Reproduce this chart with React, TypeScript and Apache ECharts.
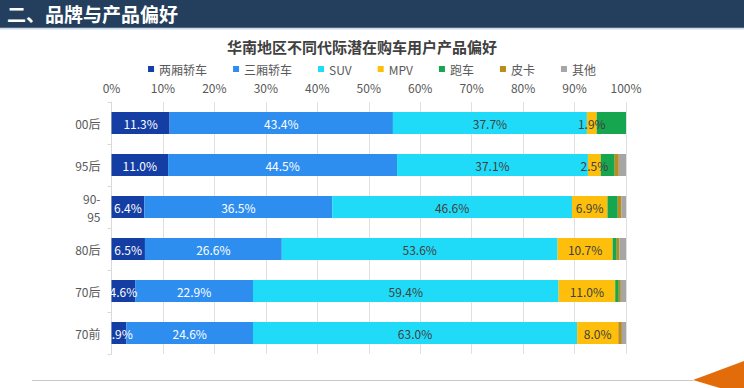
import React, { useEffect, useRef } from "react";
import * as echarts from "echarts";

const categories = ["00后", "95后", "90-\n95", "80后", "70后", "70前"];
const seriesNames = ["两厢轿车", "三厢轿车", "SUV", "MPV", "跑车", "皮卡", "其他"];
const hatchback = [11.3, 11.0, 6.4, 6.5, 4.6, 2.9];
const sedan = [43.4, 44.5, 36.5, 26.6, 22.9, 24.6];
const suv = [37.7, 37.1, 46.6, 53.6, 59.4, 63.0];
const mpv = [1.9, 2.5, 6.9, 10.7, 11.0, 8.0];
const sports = [5.7, 2.7, 2.0, 0.8, 0.7, 0];
const pickup = [0, 0.8, 0.7, 0.5, 0.4, 0.7];
const others = [0, 1.4, 0.9, 1.3, 1.0, 0.8];
const xTicks = [0, 10, 20, 30, 40, 50, 60, 70, 80, 90, 100];

const colors = ["#143ea3", "#2e8ef0", "#20dbf7", "#fdbf0b", "#17a650", "#bb8c1c", "#a6a6a6"];
const labelColors = ["#ffffff", "#ffffff", "#404040", "#404040", null, null, null];
const seriesData = [hatchback, sedan, suv, mpv, sports, pickup, others];

export default function App() {
  const ref = useRef<HTMLDivElement>(null);
  useEffect(() => {
    if (!ref.current) return;
    const chart = echarts.init(ref.current, null, { renderer: "svg" });
    const font = "'Noto Sans CJK SC', 'Noto Sans', sans-serif";
    chart.setOption({
      animation: false,
      textStyle: { fontFamily: font },
      title: {
        text: "华南地区不同代际潜在购车用户产品偏好",
        left: 357,
        textAlign: "center",
        top: 34,
        textStyle: { fontSize: 15, fontWeight: "bold", color: "#404040", fontFamily: font },
      },
      legend: {
        data: seriesNames,
        top: 58,
        left: "center",
        itemWidth: 6,
        itemHeight: 6,
        itemGap: 26,
        icon: "rect",
        textStyle: { fontSize: 12, color: "#595959", fontFamily: font },
      },
      grid: { left: 111.5, right: 118, top: 102, bottom: 34, containLabel: false },
      xAxis: {
        type: "value",
        position: "top",
        min: xTicks[0],
        max: xTicks[xTicks.length - 1],
        interval: 10,
        axisLabel: { formatter: "{value}%", color: "#595959", fontSize: 12, margin: 9 },
        axisLine: { show: false },
        axisTick: { show: false },
        splitLine: { show: true, lineStyle: { color: "#e0e0e0", width: 1 } },
      },
      yAxis: {
        type: "category",
        inverse: true,
        data: categories,
        axisLine: { show: true, lineStyle: { color: "#d9d9d9" } },
        axisTick: { show: true, length: 4, lineStyle: { color: "#d9d9d9" } },
        axisLabel: { color: "#595959", fontSize: 12, margin: 11, lineHeight: 18 },
      },
      series: seriesNames.map((name, i) => ({
        name,
        type: "bar",
        stack: "total",
        barWidth: 22,
        itemStyle: { color: colors[i] },
        data: seriesData[i],
        label: {
          show: labelColors[i] !== null,
          position: "inside",
          color: labelColors[i] || "#404040",
          fontSize: 12,
          fontFamily: font,
          formatter: (p: any) => (p.value ? Number(p.value).toFixed(1) + "%" : ""),
        },
      })),
      graphic: [
        { type: "rect", z: 100, shape: { x: 0, y: 0, width: 744, height: 27 }, style: { fill: "#243f5e" } },
        { type: "rect", z: 100, shape: { x: 0, y: 27, width: 744, height: 1 }, style: { fill: "#55657a" } },
        { type: "rect", z: 100, shape: { x: 0, y: 28, width: 744, height: 1.5 }, style: { fill: "#c9d9ee" } },
        {
          type: "text",
          z: 101,
          x: 7,
          y: 13.5,
          style: {
            text: "二、品牌与产品偏好",
            fill: "#ffffff",
            font: "bold 19px 'Noto Sans CJK SC', sans-serif",
            verticalAlign: "middle",
          },
        },
        { type: "rect", z: 100, shape: { x: 100.5, y: 324, width: 10.5, height: 18 }, style: { fill: "#ffffff" } },
        { type: "line", z: 100, shape: { x1: 32, y1: 380.5, x2: 693, y2: 380.5 }, style: { stroke: "#c8c8c8", lineWidth: 1 } },
        {
          type: "polygon",
          z: 100,
          shape: { points: [[693, 380], [744, 361], [744, 388], [720, 388]] },
          style: { fill: "#e36c0a" },
        },
      ],
    });
    return () => chart.dispose();
  }, []);
  return (
    <div
      ref={ref}
      style={{ position: "fixed", left: 0, top: 0, width: 744, height: 388, background: "#ffffff" }}
    />
  );
}
